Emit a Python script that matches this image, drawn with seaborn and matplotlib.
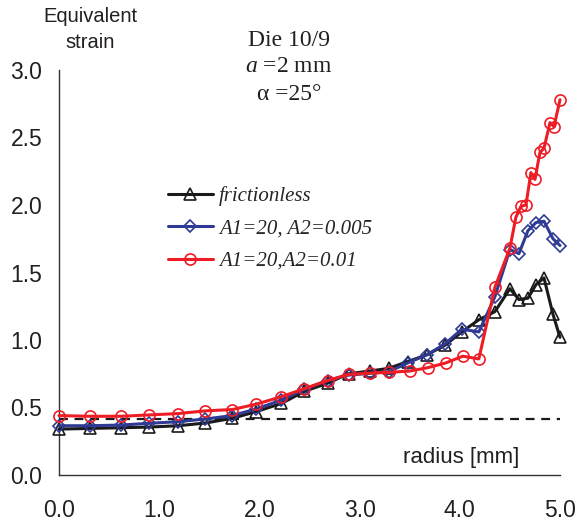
import matplotlib
matplotlib.use("Agg")
import matplotlib.pyplot as plt
import seaborn as sns
import pandas as pd

# ---------------- data ----------------
x_black_blue = [0.00, 0.31, 0.62, 0.90, 1.19, 1.46, 1.73, 1.97, 2.22, 2.45, 2.68, 2.89,
                3.10, 3.29, 3.48, 3.67, 3.85, 4.02, 4.19, 4.35, 4.50, 4.59, 4.68, 4.76,
                4.84, 4.93, 5.00]
frictionless = [0.34, 0.345, 0.35, 0.355, 0.365, 0.385, 0.42, 0.47, 0.53, 0.62, 0.68, 0.75,
                0.77, 0.79, 0.84, 0.89, 0.96, 1.06, 1.15, 1.21, 1.38, 1.30, 1.31, 1.41,
                1.46, 1.19, 1.02]
a2_0005 = [0.365, 0.365, 0.37, 0.383, 0.395, 0.415, 0.44, 0.49, 0.555, 0.635, 0.70, 0.74,
           0.753, 0.765, 0.83, 0.89, 0.97, 1.08, 1.06, 1.32, 1.67, 1.64, 1.81, 1.87,
           1.88, 1.75, 1.70]
x_red = [0.00, 0.31, 0.62, 0.90, 1.19, 1.46, 1.73, 1.97, 2.22, 2.45, 2.68, 2.89, 3.10,
         3.29, 3.50, 3.68, 3.86, 4.03, 4.19, 4.35, 4.50, 4.56, 4.61, 4.66, 4.71, 4.75,
         4.80, 4.84, 4.90, 4.94, 5.00]
a2_001 = [0.44, 0.435, 0.435, 0.445, 0.455, 0.475, 0.485, 0.525, 0.58, 0.64, 0.70, 0.745,
          0.755, 0.76, 0.77, 0.795, 0.83, 0.88, 0.86, 1.39, 1.68, 1.91, 1.99, 2.00, 2.24,
          2.19, 2.39, 2.42, 2.61, 2.58, 2.78]
ref_level = 0.415

labels = ["frictionless", "A1=20, A2=0.005", "A1=20,A2=0.01"]
colors = ["#1a1a1a", "#2e3a94", "#ee1c25"]
markers = ["^", "D", "o"]
msizes = [9, 6.5, 8]
x_ticks = [0.0, 1.0, 2.0, 3.0, 4.0, 5.0]
y_ticks = [0.0, 0.5, 1.0, 1.5, 2.0, 2.5, 3.0]

df = pd.concat([
    pd.DataFrame({"radius": x_black_blue, "strain": frictionless, "case": labels[0]}),
    pd.DataFrame({"radius": x_black_blue, "strain": a2_0005, "case": labels[1]}),
    pd.DataFrame({"radius": x_red, "strain": a2_001, "case": labels[2]}),
])

# ---------------- style ----------------
sns.set_theme(style="white")
plt.rcParams["font.family"] = ["Liberation Sans", "DejaVu Sans"]
plt.rcParams["mathtext.fontset"] = "custom"
plt.rcParams["mathtext.it"] = "Liberation Serif:italic"
plt.rcParams["mathtext.rm"] = "Liberation Serif"

W, H = 577, 524
fig = plt.figure(figsize=(W / 100, H / 100), dpi=100)
ax = fig.add_axes([59 / W, 1 - 475 / H, (560 - 59) / W, (475 - 70) / H])

ax.hlines(ref_level, x_ticks[0], x_ticks[-1], colors="#1a1a1a", linestyles=(0, (4, 3)),
          linewidth=1.6, zorder=1)

for lab, col, mk, ms in zip(labels, colors, markers, msizes):
    sub = df[df["case"] == lab]
    sns.lineplot(data=sub, x="radius", y="strain", ax=ax, color=col, marker=mk,
                 markersize=ms, markerfacecolor="none", markeredgecolor=col,
                 markeredgewidth=1.2, linewidth=2.2, sort=False, estimator=None,
                 label=lab, clip_on=False, zorder=3)

ax.set_xlim(0, 5)
ax.set_ylim(0, 3)
ax.set_xticks(x_ticks)
ax.set_yticks(y_ticks)
ax.set_xticklabels([f"{v:.1f}" for v in x_ticks])
ax.set_yticklabels([f"{v:.1f}" for v in y_ticks])
ax.set_xlabel("")
ax.set_ylabel("")
for s in ["top", "right"]:
    ax.spines[s].set_visible(False)
for s in ["left", "bottom"]:
    ax.spines[s].set_color("#333333")
    ax.spines[s].set_linewidth(1.0)
ax.tick_params(axis="both", direction="out", length=5, width=1.0, color="#333333",
               labelsize=16.5, labelcolor="#231f20")
ax.tick_params(axis="x", pad=12)
ax.tick_params(axis="y", pad=7)
ax.grid(False)

leg = ax.legend(loc="upper left", bbox_to_anchor=(168 / W, 1 - 186 / H),
                bbox_transform=fig.transFigure, frameon=False, borderpad=0,
                borderaxespad=0, handlelength=2.15, handletextpad=0.3,
                labelspacing=0.62, numpoints=1,
                prop={"family": "Liberation Serif", "style": "italic", "size": 15})

def ft(x, y, s, **kw):
    fig.text(x / W, 1 - y / H, s, ha="center", va="center", **kw)

ft(90, 16, "Equivalent", fontsize=14.5, color="#231f20")
ft(90, 43, "strain", fontsize=14.5, color="#231f20")
ft(289, 40, "Die 10/9", fontsize=17, family="Liberation Serif", color="#231f20")
ft(289, 67, "$a$ =2 mm", fontsize=17, family="Liberation Serif", color="#231f20")
ft(289, 94, "α =25°", fontsize=17, family="Liberation Serif", color="#231f20")
ft(461, 458, "radius [mm]", fontsize=16, color="#231f20")

fig.savefig("out.png", dpi=100)
